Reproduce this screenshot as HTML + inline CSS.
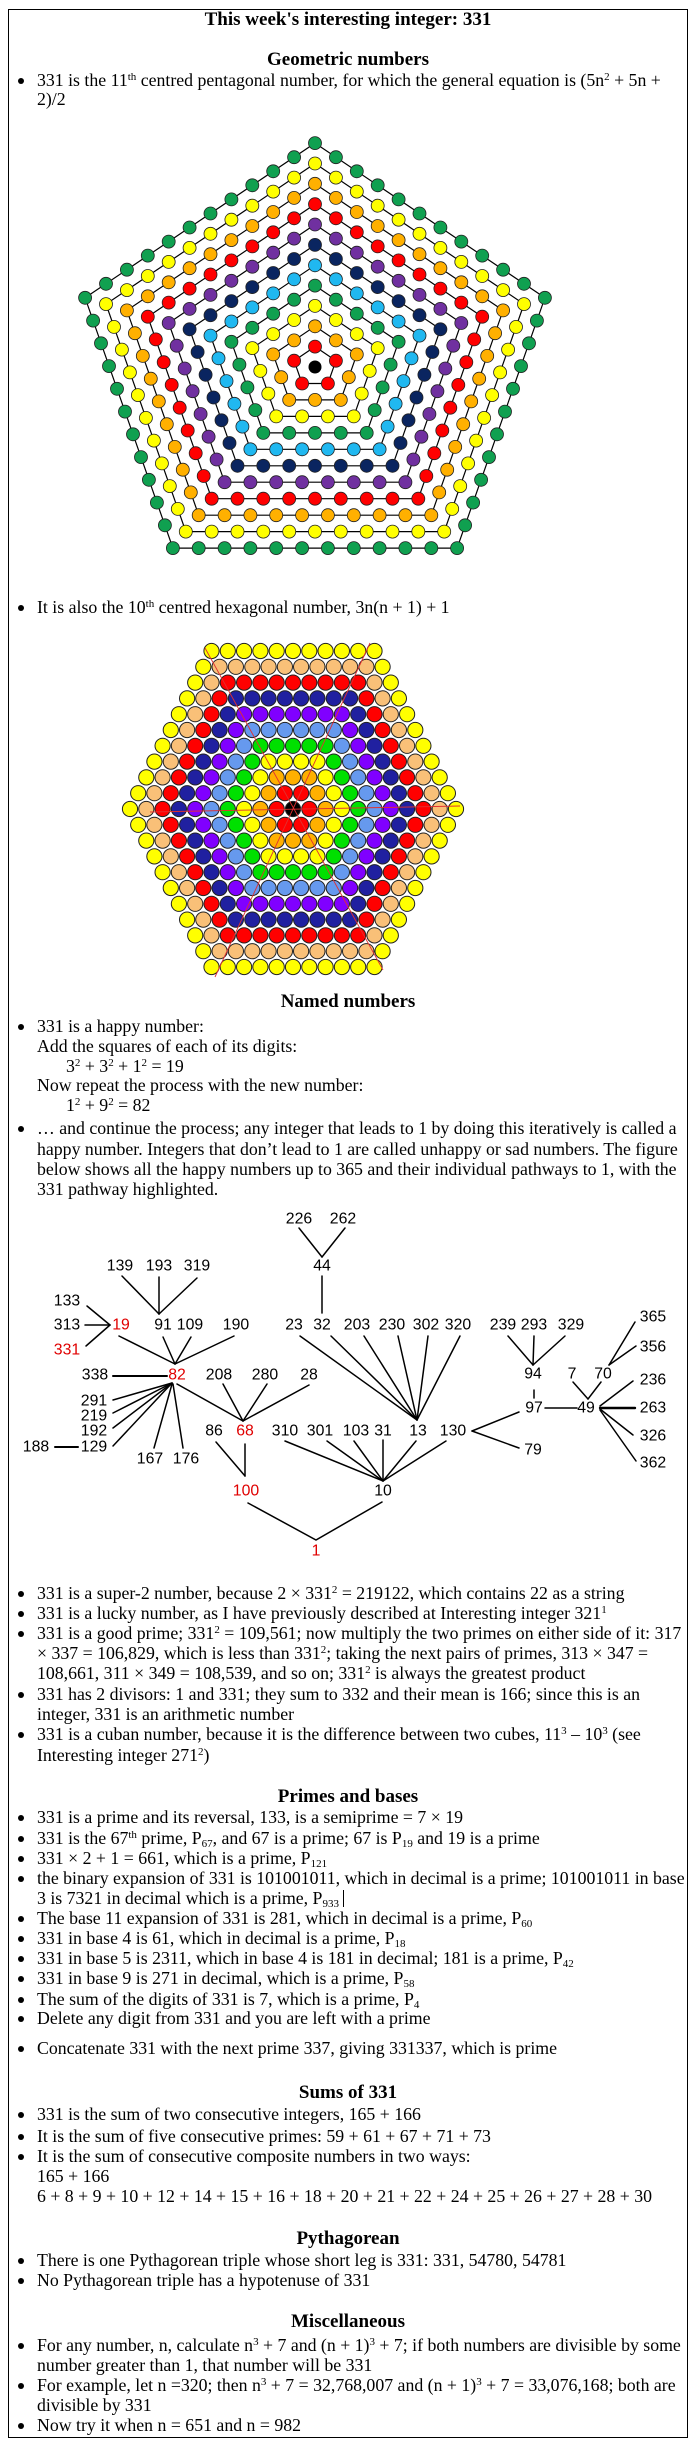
<!DOCTYPE html>
<html><head><meta charset="utf-8">
<style>
html,body{margin:0;padding:0;background:#fff;}
body{width:698px;height:2458px;position:relative;overflow:hidden;font-family:"Liberation Serif",serif;color:#000;}
#frame{position:absolute;left:8px;top:9px;width:678px;height:2427px;border:1px solid #000;}
.l{position:absolute;left:37px;white-space:nowrap;line-height:20px;font-size:17.8px;}
.b::before{content:"";position:absolute;left:-19px;top:8px;width:6px;height:6px;border-radius:50%;background:#000;}
.h{position:absolute;left:8px;width:680px;text-align:center;font-weight:bold;font-size:19px;line-height:20px;white-space:nowrap;}
sup,sub{font-size:11px;line-height:0;}
sup{vertical-align:6px;} sub{vertical-align:-3px;}
svg{position:absolute;left:0;}
</style></head><body>
<div id="frame"></div>
<div class="h" style="top:10px;">This week's interesting integer: 331</div>
<div class="h" style="top:50px">Geometric numbers</div>
<div class="l b" style="top:70px">331 is the 11<sup>th</sup> centred pentagonal number, for which the general equation is (5n<sup>2</sup> + 5n +</div>
<div class="l" style="top:89px">2)/2</div>

<svg id="pent" width="698" height="600" style="top:0"></svg>

<div class="l b" style="top:597px">It is also the 10<sup>th</sup> centred hexagonal number, 3n(n + 1) + 1</div>

<svg id="hex" width="698" height="1000" style="top:0"></svg>

<div class="h" style="top:992px">Named numbers</div>
<div class="l b" style="top:1016px">331 is a happy number:</div>
<div class="l" style="top:1036px">Add the squares of each of its digits:</div>
<div class="l" style="top:1056px;left:66px">3<sup>2</sup> + 3<sup>2</sup> + 1<sup>2</sup> = 19</div>
<div class="l" style="top:1075px">Now repeat the process with the new number:</div>
<div class="l" style="top:1095px;left:66px">1<sup>2</sup> + 9<sup>2</sup> = 82</div>
<div class="l b" style="top:1118px">… and continue the process; any integer that leads to 1 by doing this iteratively is called a</div>
<div class="l" style="top:1139px">happy number. Integers that don’t lead to 1 are called unhappy or sad numbers. The figure</div>
<div class="l" style="top:1159px">below shows all the happy numbers up to 365 and their individual pathways to 1, with the</div>
<div class="l" style="top:1179px">331 pathway highlighted.</div>

<svg width="698" height="1600" style="top:0" font-family="Liberation Sans, sans-serif" font-size="16">
<g stroke="#000" stroke-width="1.5" fill="none" stroke-linecap="round">
<line x1="299" y1="1228" x2="322" y2="1257"/><line x1="345" y1="1228" x2="322" y2="1257"/>
<line x1="322" y1="1276" x2="322" y2="1313"/>
<line x1="122" y1="1276" x2="159" y2="1314"/><line x1="159" y1="1277" x2="159" y2="1314"/><line x1="197" y1="1278" x2="159" y2="1314"/>
<line x1="87" y1="1306" x2="110" y2="1325"/><line x1="85" y1="1325" x2="110" y2="1325"/><line x1="86" y1="1346" x2="110" y2="1325"/>
<line x1="119" y1="1336" x2="175" y2="1364"/><line x1="163" y1="1337" x2="175" y2="1364"/><line x1="191" y1="1337" x2="175" y2="1364"/><line x1="234" y1="1336" x2="175" y2="1364"/>
<line x1="113" y1="1376" x2="167" y2="1376" stroke-width="2"/>
<line x1="172" y1="1383" x2="113" y2="1400"/><line x1="172" y1="1383" x2="113" y2="1413"/><line x1="172" y1="1383" x2="113" y2="1428"/><line x1="172" y1="1383" x2="113" y2="1446"/>
<line x1="172" y1="1384" x2="154" y2="1448"/><line x1="173" y1="1384" x2="183" y2="1448"/>
<line x1="177" y1="1384" x2="243" y2="1421"/><line x1="223" y1="1384" x2="243" y2="1421"/><line x1="267" y1="1384" x2="243" y2="1421"/><line x1="309" y1="1385" x2="243" y2="1421"/>
<line x1="55" y1="1447" x2="78" y2="1447" stroke-width="2"/>
<line x1="300" y1="1336" x2="417" y2="1420"/><line x1="331" y1="1336" x2="417" y2="1420"/><line x1="364" y1="1336" x2="417" y2="1420"/><line x1="398" y1="1336" x2="417" y2="1420"/><line x1="428" y1="1336" x2="417" y2="1420"/><line x1="460" y1="1336" x2="417" y2="1420"/>
<line x1="508" y1="1336" x2="533" y2="1365"/><line x1="534" y1="1336" x2="533" y2="1365"/><line x1="565" y1="1336" x2="533" y2="1365"/>
<line x1="534" y1="1390" x2="534" y2="1398"/>
<line x1="545" y1="1408" x2="577" y2="1408"/>
<line x1="573" y1="1382" x2="588" y2="1399"/><line x1="601" y1="1382" x2="588" y2="1399"/>
<line x1="635" y1="1322" x2="609" y2="1365"/><line x1="636" y1="1346" x2="609" y2="1365"/>
<line x1="600" y1="1406" x2="633" y2="1381"/><line x1="600" y1="1408" x2="635" y2="1408" stroke-width="2.4"/><line x1="600" y1="1409" x2="633" y2="1435"/><line x1="600" y1="1410" x2="636" y2="1461"/>
<line x1="472" y1="1431" x2="519" y2="1412"/><line x1="472" y1="1431" x2="519" y2="1448"/>
<line x1="216" y1="1442" x2="245" y2="1476"/><line x1="245" y1="1444" x2="245" y2="1476"/>
<line x1="285" y1="1441" x2="383" y2="1481"/><line x1="327" y1="1441" x2="383" y2="1481"/><line x1="354" y1="1441" x2="383" y2="1481"/><line x1="383" y1="1440" x2="383" y2="1481"/><line x1="416" y1="1441" x2="383" y2="1481"/><line x1="446" y1="1441" x2="383" y2="1481"/>
<polyline points="248,1503 316,1540 382,1502"/>
</g>
<g id="tl" text-anchor="middle" dominant-baseline="central" fill="#000">
<text x="299" y="1219">226</text><text x="343" y="1219">262</text>
<text x="322" y="1266">44</text>
<text x="120" y="1266">139</text><text x="159" y="1266">193</text><text x="197" y="1266">319</text>
<text x="67" y="1301">133</text>
<text x="67" y="1325">313</text><text x="121" y="1325" fill="#e00000">19</text><text x="163" y="1325">91</text><text x="190" y="1325">109</text><text x="236" y="1325">190</text>
<text x="67" y="1350" fill="#e00000">331</text>
<text x="294" y="1325">23</text><text x="322" y="1325">32</text><text x="357" y="1325">203</text><text x="392" y="1325">230</text><text x="426" y="1325">302</text><text x="458" y="1325">320</text>
<text x="503" y="1325">239</text><text x="534" y="1325">293</text><text x="571" y="1325">329</text>
<text x="653" y="1317">365</text><text x="653" y="1347">356</text>
<text x="95" y="1375">338</text><text x="177" y="1375" fill="#e00000">82</text><text x="219" y="1375">208</text><text x="265" y="1375">280</text><text x="309" y="1375">28</text>
<text x="533" y="1374">94</text><text x="572" y="1374">7</text><text x="603" y="1374">70</text><text x="653" y="1380">236</text>
<text x="94" y="1401">291</text><text x="94" y="1416">219</text><text x="94" y="1431">192</text><text x="36" y="1447">188</text><text x="94" y="1447">129</text>
<text x="534" y="1408">97</text><text x="586" y="1408">49</text><text x="653" y="1408">263</text>
<text x="214" y="1431">86</text><text x="245" y="1431" fill="#e00000">68</text><text x="285" y="1431">310</text><text x="320" y="1431">301</text><text x="356" y="1431">103</text><text x="383" y="1431">31</text><text x="418" y="1431">13</text><text x="453" y="1431">130</text>
<text x="653" y="1436">326</text><text x="533" y="1450">79</text><text x="653" y="1463">362</text>
<text x="150" y="1459">167</text><text x="186" y="1459">176</text>
<text x="246" y="1491" fill="#e00000">100</text><text x="383" y="1491">10</text>
<text x="316" y="1551" fill="#e00000">1</text>
</g>
</svg>

<div class="l b" style="top:1583px">331 is a super-2 number, because 2 × 331<sup>2</sup> = 219122, which contains 22 as a string</div>
<div class="l b" style="top:1603px">331 is a lucky number, as I have previously described at Interesting integer 321<sup>1</sup></div>
<div class="l b" style="top:1623px">331 is a good prime; 331<sup>2</sup> = 109,561; now multiply the two primes on either side of it: 317</div>
<div class="l" style="top:1643px">× 337 = 106,829, which is less than 331<sup>2</sup>; taking the next pairs of primes, 313 × 347 =</div>
<div class="l" style="top:1663px">108,661, 311 × 349 = 108,539, and so on; 331<sup>2</sup> is always the greatest product</div>
<div class="l b" style="top:1684px">331 has 2 divisors: 1 and 331; they sum to 332 and their mean is 166; since this is an</div>
<div class="l" style="top:1704px">integer, 331 is an arithmetic number</div>
<div class="l b" style="top:1724px">331 is a cuban number, because it is the difference between two cubes, 11<sup>3</sup> – 10<sup>3</sup> (see</div>
<div class="l" style="top:1745px">Interesting integer 271<sup>2</sup>)</div>

<div class="h" style="top:1787px">Primes and bases</div>
<div class="l b" style="top:1807px">331 is a prime and its reversal, 133, is a semiprime = 7 × 19</div>
<div class="l b" style="top:1828px">331 is the 67<sup>th</sup> prime, P<sub>67</sub>, and 67 is a prime; 67 is P<sub>19</sub> and 19 is a prime</div>
<div class="l b" style="top:1848px">331 × 2 + 1 = 661, which is a prime, P<sub>121</sub></div>
<div class="l b" style="top:1868px">the binary expansion of 331 is 101001011, which in decimal is a prime; 101001011 in base</div>
<div class="l" style="top:1888px">3 is 7321 in decimal which is a prime, P<sub>933</sub> <span style="display:inline-block;width:1px;height:17px;background:#000;vertical-align:-3px"></span></div>
<div class="l b" style="top:1908px">The base 11 expansion of 331 is 281, which in decimal is a prime, P<sub>60</sub></div>
<div class="l b" style="top:1928px">331 in base 4 is 61, which in decimal is a prime, P<sub>18</sub></div>
<div class="l b" style="top:1948px">331 in base 5 is 2311, which in base 4 is 181 in decimal; 181 is a prime, P<sub>42</sub></div>
<div class="l b" style="top:1968px">331 in base 9 is 271 in decimal, which is a prime, P<sub>58</sub></div>
<div class="l b" style="top:1989px">The sum of the digits of 331 is 7, which is a prime, P<sub>4</sub></div>
<div class="l b" style="top:2008px">Delete any digit from 331 and you are left with a prime</div>
<div class="l b" style="top:2038px">Concatenate 331 with the next prime 337, giving 331337, which is prime</div>

<div class="h" style="top:2083px">Sums of 331</div>
<div class="l b" style="top:2104px">331 is the sum of two consecutive integers, 165 + 166</div>
<div class="l b" style="top:2126px">It is the sum of five consecutive primes: 59 + 61 + 67 + 71 + 73</div>
<div class="l b" style="top:2146px">It is the sum of consecutive composite numbers in two ways:</div>
<div class="l" style="top:2166px">165 + 166</div>
<div class="l" style="top:2186px">6 + 8 + 9 + 10 + 12 + 14 + 15 + 16 + 18 + 20 + 21 + 22 + 24 + 25 + 26 + 27 + 28 + 30</div>

<div class="h" style="top:2229px">Pythagorean</div>
<div class="l b" style="top:2250px">There is one Pythagorean triple whose short leg is 331: 331, 54780, 54781</div>
<div class="l b" style="top:2270px">No Pythagorean triple has a hypotenuse of 331</div>

<div class="h" style="top:2312px">Miscellaneous</div>
<div class="l b" style="top:2335px">For any number, n, calculate n<sup>3</sup> + 7 and (n + 1)<sup>3</sup> + 7; if both numbers are divisible by some</div>
<div class="l" style="top:2355px">number greater than 1, that number will be 331</div>
<div class="l b" style="top:2375px">For example, let n =320; then n<sup>3</sup> + 7 = 32,768,007 and (n + 1)<sup>3</sup> + 7 = 33,076,168; both are</div>
<div class="l" style="top:2395px">divisible by 331</div>
<div class="l b" style="top:2415px">Now try it when n = 651 and n = 982</div>

<script>
(function(){
var NS="http://www.w3.org/2000/svg";
function el(p,t,a){var e=document.createElementNS(NS,t);for(var k in a)e.setAttribute(k,a[k]);p.appendChild(e);return e;}
var ts=document.querySelectorAll("#tl text");
for(var i=0;i<ts.length;i++){var n=ts[i].textContent.length;ts[i].setAttribute("textLength",(8.8*n).toFixed(1));ts[i].setAttribute("lengthAdjust","spacingAndGlyphs");}
var P=document.getElementById("pent");
var cx=315,cy=367,step=20.35,sx=1.08;
var pc=["#ff0000","#ffb000","#ffff00","#10a050","#20b8f0","#0a2560","#7030a0","#ff0000","#ffb000","#ffff00","#10a050"];
var gl=el(P,"g",{stroke:"#000","stroke-width":"1.2",fill:"none"});
var gd=el(P,"g",{stroke:"#222","stroke-width":"0.8"});
for(var k=1;k<=11;k++){
  var R=step*k,V=[];
  for(var j=0;j<5;j++){var a=(-90+72*j)*Math.PI/180;V.push([cx+sx*R*Math.cos(a),cy+R*Math.sin(a)]);}
  el(gl,"polygon",{points:V.map(function(v){return v[0].toFixed(1)+","+v[1].toFixed(1)}).join(" ")});
  for(var j=0;j<5;j++){var A=V[j],B=V[(j+1)%5];
    for(var i=0;i<k;i++){var t=i/k;el(gd,"circle",{cx:(A[0]+(B[0]-A[0])*t).toFixed(1),cy:(A[1]+(B[1]-A[1])*t).toFixed(1),r:6.5,fill:pc[k-1]});}
  }
}
el(P,"circle",{cx:cx,cy:cy,r:6.5,fill:"#000"});
var H=document.getElementById("hex");
var hx=293,hy=809,dx=16.3,dy=15.8;
var hc=["#000","#ff0000","#ffb000","#ffff00","#00e000","#6699ee","#8000ff","#2020a0","#ff0000","#f9c078","#ffff00"];
var gh=el(H,"g",{stroke:"#222","stroke-width":"1"});
for(var r=-10;r<=10;r++){
  var n=21-Math.abs(r);
  for(var i=0;i<n;i++){
    var x2=2*i-(n-1);
    var d=Math.max(Math.abs(r),(Math.abs(x2)+Math.abs(r))/2);
    el(gh,"circle",{cx:(hx+x2*dx/2).toFixed(1),cy:(hy+r*dy).toFixed(1),r:7.6,fill:hc[d]});
  }
}
var gr=el(H,"g",{stroke:"#e03030","stroke-width":"0.9"});
el(gr,"line",{x1:150,y1:812,x2:460,y2:806});
el(gr,"line",{x1:205,y1:648,x2:383,y2:970});
el(gr,"line",{x1:370,y1:643,x2:215,y2:977});
})();
</script>
</body></html>
